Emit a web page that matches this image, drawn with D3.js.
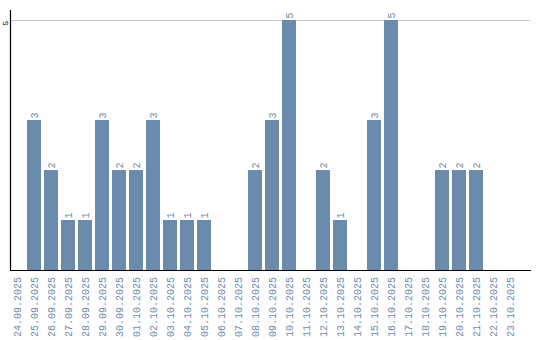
<!DOCTYPE html>
<html><head><meta charset="utf-8">
<script src="https://cdn.jsdelivr.net/npm/d3@7"></script>
<style>body{margin:0;background:#fff}svg{display:block}</style>
</head><body>
<svg id="c" width="540" height="340"></svg>
<script>
const dates = ["24.09.2025","25.09.2025","26.09.2025","27.09.2025","28.09.2025","29.09.2025","30.09.2025","01.10.2025","02.10.2025","03.10.2025","04.10.2025","05.10.2025","06.10.2025","07.10.2025","08.10.2025","09.10.2025","10.10.2025","11.10.2025","12.10.2025","13.10.2025","14.10.2025","15.10.2025","16.10.2025","17.10.2025","18.10.2025","19.10.2025","20.10.2025","21.10.2025","22.10.2025","23.10.2025"];
const counts = [0,3,2,1,1,3,2,2,3,1,1,1,0,0,2,3,5,0,2,1,0,3,5,0,0,2,2,2,0,0];
const yTicks = [5];

const svg = d3.select("#c");
const barColor = "#6a8bab";
const font = "Liberation Mono, DejaVu Sans Mono, monospace";

const x = d3.scaleBand().domain(dates).range([10, 517]).paddingInner(3/17).paddingOuter(0).align(0);
const y = d3.scaleLinear().domain([0, 5.2]).range([270, 10]);

const rows = counts.map((v, i) => ({ d: dates[i], v })).filter(o => o.v > 0);

// gridlines
svg.append("g").selectAll("line").data(yTicks).join("line")
  .attr("x1", 11).attr("x2", 530)
  .attr("y1", d => Math.round(y(d)) + 0.5).attr("y2", d => Math.round(y(d)) + 0.5)
  .attr("stroke", "#c8c8c8").attr("stroke-width", 1);

// bars
svg.append("g").selectAll("rect").data(rows).join("rect")
  .attr("x", o => x(o.d)).attr("width", x.bandwidth())
  .attr("y", o => y(o.v)).attr("height", o => y(0) - y(o.v))
  .attr("fill", barColor);

// value labels
svg.append("g").selectAll("text").data(rows).join("text")
  .attr("transform", o => `translate(${x(o.d) + x.bandwidth()/2},${y(o.v) - 1.5}) rotate(-90)`)
  .attr("dy", "0.35em")
  .attr("text-anchor", "start")
  .attr("font-family", font).attr("font-size", 10)
  .attr("fill", "#6f89a6")
  .text(o => o.v);

// x axis baseline
svg.append("line").attr("x1", 10).attr("x2", 531).attr("y1", 270.5).attr("y2", 270.5)
  .attr("stroke", "#000").attr("stroke-width", 1.2);
// y axis line
svg.append("line").attr("x1", 10.5).attr("x2", 10.5).attr("y1", 10).attr("y2", 271)
  .attr("stroke", "#000").attr("stroke-width", 1.2);

// x tick labels
svg.append("g").selectAll("text").data(dates).join("text")
  .attr("transform", d => `translate(${x(d) + x.bandwidth()/2},277) rotate(-90)`)
  .attr("dy", "0.35em")
  .attr("text-anchor", "end")
  .attr("font-family", font).attr("font-size", 10)
  .attr("fill", "#6a8bab")
  .text(d => d);

// y tick labels
svg.append("g").selectAll("text").data(yTicks).join("text")
  .attr("transform", d => `translate(5,${y(d) + 3}) rotate(-90)`)
  .attr("dy", "0.35em")
  .attr("text-anchor", "middle")
  .attr("font-family", font).attr("font-size", 8)
  .attr("fill", "#000")
  .text(d => d);
</script>
</body></html>
